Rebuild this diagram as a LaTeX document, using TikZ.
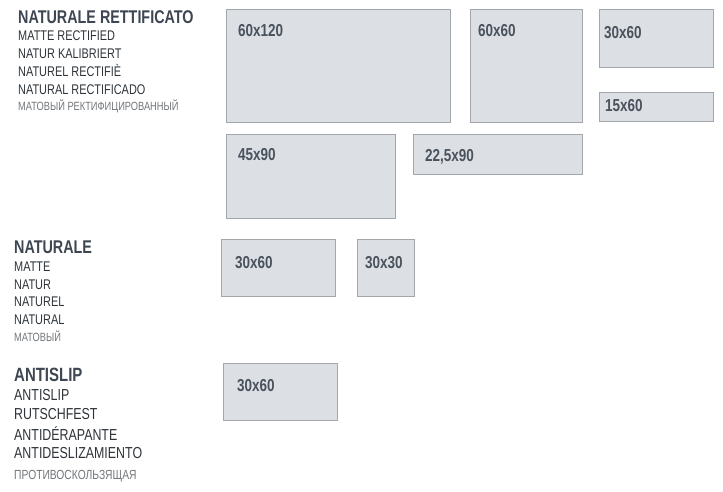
\documentclass[tikz,border=0pt]{standalone}
\usepackage{fontspec}
\setmainfont[FakeStretch=0.78]{Liberation Sans}
\definecolor{headc}{HTML}{3D4651}
\definecolor{subc}{HTML}{2E3439}
\definecolor{cyrc}{HTML}{72767A}
\definecolor{tilefill}{HTML}{DCE0E5}
\definecolor{tileline}{HTML}{A3A7AB}
\definecolor{labc}{HTML}{4A525C}
\begin{document}
\begin{tikzpicture}[x=1pt,y=-1pt,
  tile/.style={draw=tileline,fill=tilefill,line width=1pt,inner sep=0pt,outer sep=0pt},
  size/.style={anchor=base west,inner sep=0pt,font=\fontsize{17.3}{18}\selectfont\bfseries,text=labc},
  head/.style={anchor=base west,inner sep=0pt,font=\fontsize{18.4}{20}\selectfont\bfseries,text=headc},
  sub/.style={anchor=base west,inner sep=0pt,font=\fontsize{14}{15}\selectfont,text=subc},
  cyr/.style={anchor=base west,inner sep=0pt,font=\fontsize{11.9}{12}\selectfont,text=cyrc},
  headL/.style={head,font=\fontsize{19.2}{20}\selectfont\bfseries},
  subL/.style={sub,font=\fontsize{15.9}{17}\selectfont},
  cyrL/.style={cyr,font=\fontsize{13.2}{14}\selectfont}]
\useasboundingbox (0,0) rectangle (723,491);
% tiles
\path[tile] (226,9) rectangle (450,122);
\path[tile] (470,9) rectangle (582,122);
\path[tile] (599,9) rectangle (713,67);
\path[tile] (599,92) rectangle (713,121);
\path[tile] (226,134) rectangle (395,218);
\path[tile] (413,134) rectangle (582,174);
\path[tile] (221,239) rectangle (335,296);
\path[tile] (357,239) rectangle (414,296);
\path[tile] (223,363) rectangle (337,420);
% labels
\node[size] (l1) at (238,36) {60x120};
\node[size] (l2) at (478,36) {60x60};
\node[size] (l3) at (604,38) {30x60};
\node[size] (l4) at (605,111) {15x60};
\node[size] (l5) at (238,160) {45x90};
\node[size] (l6) at (425,161) {22,5x90};
\node[size] (l7) at (235,268) {30x60};
\node[size] (l8) at (365,268) {30x30};
\node[size] (l9) at (237,391) {30x60};
% text block 1
\node[head] (h1) at (18,23) {NATURALE RETTIFICATO};
\node[sub] (a1) at (18,40) {MATTE RECTIFIED};
\node[sub] (a2) at (18,58) {NATUR KALIBRIERT};
\node[sub] (a3) at (18,76) {NATUREL RECTIFIÈ};
\node[sub] (a4) at (18,94) {NATURAL RECTIFICADO};
\node[cyr] (a5) at (18,110.5) {МАТОВЫЙ РЕКТИФИЦИРОВАННЫЙ};
% text block 2
\node[head] (h2) at (14,253) {NATURALE};
\node[sub] (b1) at (14,271) {MATTE};
\node[sub] (b2) at (14,289) {NATUR};
\node[sub] (b3) at (14,306) {NATUREL};
\node[sub] (b4) at (14,324) {NATURAL};
\node[cyr] (b5) at (14,341) {МАТОВЫЙ};
% text block 3
\node[headL] (h3) at (14,381) {ANTISLIP};
\node[subL] (c1) at (14,400.5) {ANTISLIP};
\node[subL] (c2) at (14,419.5) {RUTSCHFEST};
\node[subL] (c3) at (14,440.5) {ANTIDÉRAPANTE};
\node[subL] (c4) at (14,458.5) {ANTIDESLIZAMIENTO};
\node[cyrL] (c5) at (14,479) {ПРОТИВОСКОЛЬЗЯЩАЯ};
\end{tikzpicture}
\end{document}
